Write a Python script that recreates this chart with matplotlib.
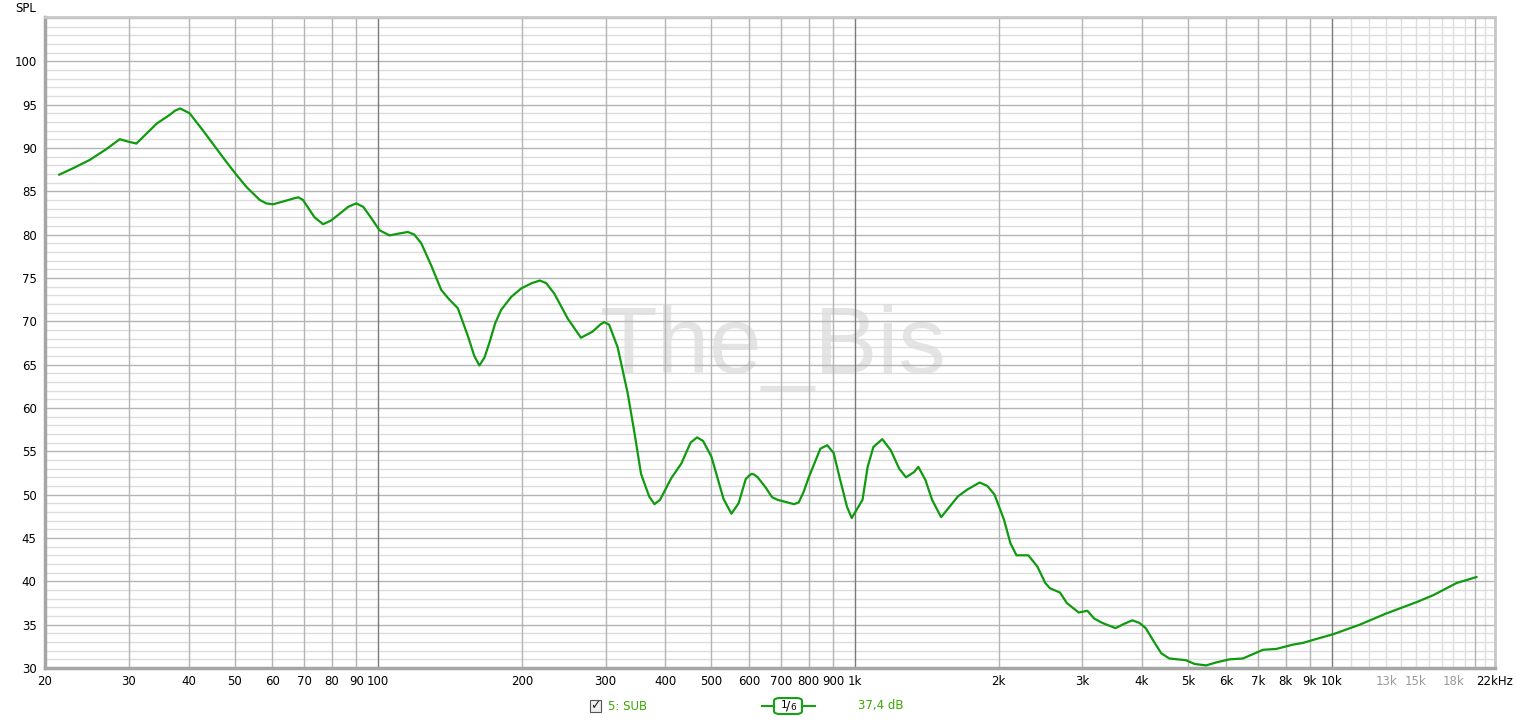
import matplotlib
matplotlib.use("Agg")
import matplotlib.pyplot as plt
from matplotlib.patches import FancyBboxPatch, Rectangle
from matplotlib.lines import Line2D

freq = [21.4, 23.0, 24.8, 26.8, 28.7, 30.0, 31.1, 34.3, 36.5, 37.5,
        38.4, 40.2, 42.9, 45.8, 48.0, 50.4, 52.9, 56.4, 58.2, 60.2,
        63.0, 66.8, 68.0, 69.5, 73.5, 76.6, 79.5, 83.0, 86.5, 89.9,
        93.0, 96.7, 100.6, 105.6, 110.0, 115.4, 119.0, 123.1, 129.0, 135.6,
        141.0, 146.9, 154.4, 159.0, 163.0, 167.0, 171.0, 176.0, 181.0, 190.0,
        199.6, 210.0, 218.2, 225.0, 234.0, 249.8, 266.2, 281.4, 292.0, 297.8,
        305.0, 317.8, 333.6, 345.0, 355.8, 370.0, 379.6, 390.0, 411.8, 432.4,
        452.0, 466.4, 480.0, 499.7, 530.0, 550.5, 570.0, 590.0, 600.0, 607.4,
        615.0, 625.0, 650.0, 670.0, 688.1, 721.9, 745.0, 762.0, 780.0, 800.0,
        822.0, 846.0, 874.4, 902.0, 931.0, 962.0, 984.3, 1037, 1063, 1093,
        1141, 1189, 1238, 1279, 1330, 1358, 1405, 1451, 1516, 1568,
        1644, 1722, 1826, 1895, 1962, 2054, 2118, 2181, 2310, 2413,
        2507, 2564, 2692, 2781, 2946, 3073, 3175, 3302, 3520, 3670,
        3817, 3950, 4072, 4219, 4389, 4561, 4944, 5160, 5452, 5729,
        6104, 6512, 7174, 7650, 8297, 8710, 9216, 10074, 11449, 13025,
        15066, 16326, 18272, 20138]
spl = [86.9, 87.7, 88.6, 89.8, 91.0, 90.7, 90.5, 92.8, 93.8, 94.3,
       94.55, 94.0, 92.0, 89.9, 88.4, 86.9, 85.5, 84.0, 83.6, 83.5,
       83.8, 84.2, 84.3, 84.0, 82.0, 81.2, 81.6, 82.4, 83.2, 83.6,
       83.2, 81.9, 80.5, 79.9, 80.1, 80.3, 80.0, 79.0, 76.5, 73.6,
       72.5, 71.5, 68.2, 66.0, 64.9, 65.8, 67.5, 69.8, 71.3, 72.8,
       73.8, 74.4, 74.7, 74.4, 73.2, 70.3, 68.1, 68.8, 69.6, 69.9,
       69.6, 67.0, 61.7, 57.0, 52.4, 49.8, 48.9, 49.4, 51.9, 53.6,
       56.0, 56.6, 56.2, 54.4, 49.5, 47.8, 49.0, 51.8, 52.2, 52.4,
       52.3, 52.0, 50.8, 49.7, 49.4, 49.1, 48.9, 49.1, 50.3, 52.0,
       53.6, 55.3, 55.7, 54.8, 51.7, 48.6, 47.3, 49.4, 53.2, 55.5,
       56.4, 55.1, 53.0, 52.0, 52.6, 53.2, 51.7, 49.4, 47.4, 48.4,
       49.8, 50.6, 51.4, 51.0, 50.0, 47.1, 44.4, 43.0, 43.0, 41.7,
       39.8, 39.2, 38.7, 37.5, 36.4, 36.6, 35.7, 35.2, 34.6, 35.1,
       35.5, 35.2, 34.6, 33.2, 31.7, 31.1, 30.9, 30.46, 30.3, 30.65,
       31.0, 31.1, 32.1, 32.2, 32.7, 32.9, 33.3, 33.9, 35.0, 36.3,
       37.6, 38.4, 39.8, 40.5]

x_ticks = [20, 30, 40, 50, 60, 70, 80, 90, 100, 200, 300, 400, 500, 600, 700,
           800, 900, 1000, 2000, 3000, 4000, 5000, 6000, 7000, 8000, 9000,
           10000, 13000, 15000, 18000, 22000]
x_labels = ["20", "30", "40", "50", "60", "70", "80", "90", "100", "200", "300",
            "400", "500", "600", "700", "800", "900", "1k", "2k", "3k", "4k",
            "5k", "6k", "7k", "8k", "9k", "10k", "13k", "15k", "18k", "22kHz"]
grey_labels = ["13k", "15k", "18k"]
y_ticks = list(range(30, 101, 5))

W, H = 1516, 721
fig = plt.figure(figsize=(W / 100, H / 100), dpi=100)
fig.patch.set_facecolor("white")

def fx(px):
    return px / W

def fy(py):
    return 1 - py / H

ax = fig.add_axes([fx(45), fy(668), fx(1495) - fx(45), fy(17) - fy(668)])
ax.set_xscale("log")
ax.set_xlim(20, 22000)
ax.set_ylim(30, 105.1)

# сетка: 1 дБ / 5 дБ
for v in range(31, 106):
    if v % 5 == 0:
        ax.axhline(v, color="#b4b4b4", lw=1.0, zorder=1)
    else:
        ax.axhline(v, color="#dddddd", lw=1.0, zorder=0.5)

# вертикальная сетка
for dec in [10, 100, 1000]:
    for m in range(2, 10):
        f = dec * m
        if f >= 20:
            ax.axvline(f, color="#b4b4b4", lw=1.0, zorder=1)
for f in [100, 1000, 10000]:
    ax.axvline(f, color="#7a7a7a", lw=1.0, zorder=1.2)
for k in range(11, 22):
    ax.axvline(k * 1000, color="#b4b4b4" if k == 20 else "#dddddd", lw=1.0, zorder=0.8)

# водяной знак (под сеткой)
fig.patches.append(Rectangle((fx(45), fy(668)), fx(1495) - fx(45), fy(17) - fy(668),
                             transform=fig.transFigure, facecolor="white",
                             edgecolor="none", zorder=-2))
fig.text(fx(773), fy(373), "The_Bis", fontsize=68, family="Liberation Sans",
         color="#e4e4e4", ha="center", va="baseline", zorder=-1)
ax.set_zorder(1)
ax.patch.set_alpha(0)

ax.plot(freq, spl, color="#0f9a0f", lw=1.6, zorder=3, solid_capstyle="round",
        solid_joinstyle="round")

ax.set_xticks(x_ticks)
ax.set_xticklabels(x_labels)
ax.minorticks_off()
ax.set_yticks(y_ticks)
ax.tick_params(axis="both", length=0, labelsize=8.5, colors="black")
ax.tick_params(axis="x", pad=5)
ax.tick_params(axis="y", pad=6)
for lab in ax.get_xticklabels():
    if lab.get_text() in grey_labels:
        lab.set_color("#999999")

for s in ["top", "right"]:
    ax.spines[s].set_color("#c8c8c8")
    ax.spines[s].set_linewidth(2)
for s in ["left", "bottom"]:
    ax.spines[s].set_color("#a6a6a6")
    ax.spines[s].set_linewidth(2.5)

fig.text(fx(15), fy(8), "SPL", fontsize=8.5, ha="left", va="center")

# нижняя легенда
green = "#3aa800"
fig.patches.append(Rectangle((fx(590), fy(712)), fx(11), fy(700) - fy(712),
                             transform=fig.transFigure, facecolor="#eeeeee",
                             edgecolor="#555555", lw=0.8))
fig.text(fx(595.5), fy(706), "\u2713", fontsize=9, ha="center", va="center",
         color="#222222")
fig.text(fx(608), fy(706), "5: SUB", fontsize=8.5, color=green, ha="left", va="center")
fig.lines.append(Line2D([fx(762), fx(774)], [fy(706), fy(706)], transform=fig.transFigure,
                        color="#16a016", lw=1.5))
fig.lines.append(Line2D([fx(802), fx(815)], [fy(706), fy(706)], transform=fig.transFigure,
                        color="#16a016", lw=1.5))
fig.patches.append(FancyBboxPatch((fx(774), fy(714)), fx(28), fy(698) - fy(714),
                                  boxstyle="round,pad=0,rounding_size=0.004",
                                  transform=fig.transFigure, facecolor="white",
                                  edgecolor="#16a016", lw=1.5))
fig.text(fx(784), fy(704.5), "1", fontsize=7.5, ha="center", va="center")
fig.text(fx(788.5), fy(706), "/", fontsize=9, ha="center", va="center")
fig.text(fx(793), fy(708), "6", fontsize=6.5, ha="center", va="center")
fig.text(fx(858), fy(706), "37,4 dB", fontsize=8.5, color=green, ha="left", va="center")

fig.savefig("out.png", dpi=100, facecolor="white")
